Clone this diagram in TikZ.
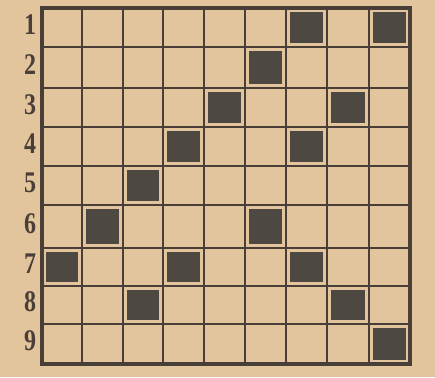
\documentclass[tikz,border=0pt]{standalone}
\usepackage{fontspec}
\setmainfont{Liberation Serif}
\definecolor{paper}{HTML}{E3C59D}
\definecolor{ink}{HTML}{4A3F38}
\definecolor{cellink}{HTML}{4E4842}
\begin{document}
\begin{tikzpicture}[x=1pt,y=-1pt,
  gridline/.style={ink,line width=2.6pt},
  border/.style={ink,line width=4.5pt,line cap=rect},
  darkcell/.style={fill=cellink,draw=none},
  rowlabel/.style={ink,font=\fontsize{30}{30}\selectfont\bfseries,inner sep=0pt,xscale=0.8}]
\fill[paper] (0,0) rectangle (435,377);
\useasboundingbox (0,0) rectangle (435,377);
% column and row positions
\def\xs{{42,82,123,163,204,245,286,327,369,410}}
\def\ys{{8,47,88,127,166,205,248,286,324,364}}
% dark cells (row,col)
\foreach \r/\c in {1/7,1/9,2/6,3/5,3/8,4/4,4/7,5/3,6/2,6/6,7/1,7/4,7/7,8/3,8/8,9/9}{
  \pgfmathsetmacro{\xa}{\xs[\c-1]+4}
  \pgfmathsetmacro{\xb}{\xs[\c]-4}
  \pgfmathsetmacro{\ya}{\ys[\r-1]+4}
  \pgfmathsetmacro{\yb}{\ys[\r]-4}
  \fill[darkcell] (\xa,\ya) rectangle (\xb,\yb);
}
% interior lines
\foreach \i in {1,...,8}{
  \pgfmathsetmacro{\xx}{\xs[\i]}
  \pgfmathsetmacro{\yy}{\ys[\i]}
  \draw[gridline] (\xx,8) -- (\xx,364);
  \draw[gridline] (42,\yy) -- (410,\yy);
}
% border
\draw[border] (42,8) rectangle (410,364);
% row labels
\foreach \r in {1,...,9}{
  \pgfmathsetmacro{\ya}{\ys[\r-1]}
  \pgfmathsetmacro{\yb}{\ys[\r]}
  \pgfmathsetmacro{\yc}{0.5*\ya+0.5*\yb-3}
  \node[rowlabel] (lab\r) at (30,\yc) {\r};
}
\end{tikzpicture}
\end{document}
